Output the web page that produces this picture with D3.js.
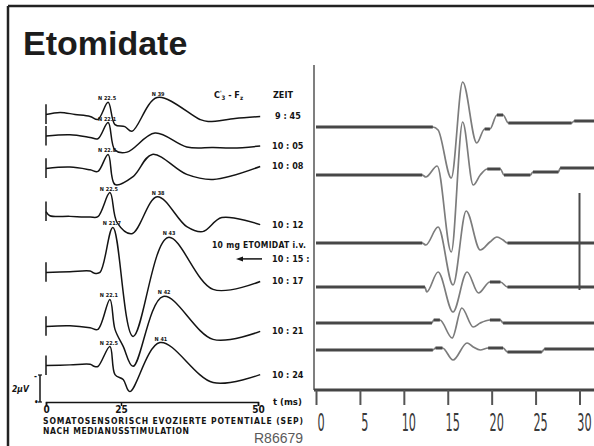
<!DOCTYPE html>
<html lang="de">
<head>
<meta charset="UTF-8">
<title>Etomidate</title>
<style>
  body { margin: 0; background: #fff; }
  svg { display: block; }
  .ltrace { fill: none; stroke: #141414; stroke-width: 1.5px; stroke-linejoin: round; }
  .rwave { fill: none; stroke: #7c7c7c; stroke-width: 1.7px; }
  .rflat { stroke: #474747; stroke-width: 3px; }
  .lbl { font-family: "DejaVu Sans Condensed", "DejaVu Sans", sans-serif; font-weight: bold; fill: #141414; }
</style>
<script src="https://cdn.jsdelivr.net/npm/d3@7/dist/d3.min.js"></script>
</head>
<body>
<script>
  // ---- left panel: SEP traces, [t (ms), deflection (µV, negative up)]
  var zeitLabels = ["9 : 45", "10 : 05", "10 : 08", "10 : 12", "10 : 17", "10 : 21", "10 : 24"];
  var leftOffsets = [21.3, 19.7, 17.3, 14.1, 9.6, 5.6, 2.7];   // µV above the time axis
  var leftTraces = [
    [[0,0],[4.7,0.15],[9.7,0],[14.7,-0.15],[17.3,-0.37],[20.7,0.9],[23,-0.75],[25.7,-0.9],[27,-1.25],[31.6,1.25],[39.4,-0.37],[40.9,-0.52],[45.8,-0.3],[50.4,-0.15]],
    [[0,0],[8,0.1],[14.7,-0.1],[17.3,-0.2],[20.7,1.0],[23,-1.04],[26.1,-1.19],[31.2,0.22],[37,-0.81],[41.8,-0.85],[45.4,-0.89],[50.4,-0.74]],
    [[0,0],[8,0.1],[14.7,-0.1],[17.3,-0.22],[20.7,1.04],[23,-1.19],[27.2,-0.6],[30.7,1.04],[37,-0.44],[41.8,-0.81],[50.4,0.15]],
    [[0,0],[1.3,-0.3],[8,-0.35],[14.7,-0.4],[17.3,-0.37],[21.3,1.41],[23.7,-0.81],[27,-1.63],[31.6,1.11],[37,-1.11],[39.9,-1.48],[43.4,-0.44],[50.4,-0.96]],
    [[0,0],[8,0.05],[14.7,0.1],[16,-0.05],[18,0],[22.3,3.33],[27.2,-4.74],[33.6,2.59],[41.8,-1.26],[50.4,-0.67]],
    [[0,0],[8,0.05],[14.7,-0.1],[17.3,-0.22],[21.3,2.0],[23,-0.22],[25.4,-1.48],[27.2,-2.96],[32.7,2.22],[41.8,-0.96],[50.4,-0.37]],
    [[0,0],[8,0.05],[14.7,0.1],[16,-0.05],[17.3,-0.07],[21.3,1.41],[23,-0.67],[25.4,-1.04],[26.6,-1.93],[32.1,1.7],[41.8,-1.26],[50.4,-0.67]]
  ];
  var peakLabels = [
    {trace: 0, t: 20.7, text: "N 22.5"}, {trace: 0, t: 31.6, text: "N 39"},
    {trace: 1, t: 20.7, text: "N 22.1"},
    {trace: 2, t: 20.7, text: "N 22.8"},
    {trace: 3, t: 21.3, text: "N 22.5"}, {trace: 3, t: 31.6, text: "N 38"},
    {trace: 4, t: 22.3, text: "N 21.7"}, {trace: 4, t: 33.6, text: "N 43"},
    {trace: 5, t: 21.3, text: "N 22.1"}, {trace: 5, t: 32.7, text: "N 42"},
    {trace: 6, t: 21.3, text: "N 22.5"}, {trace: 6, t: 32.1, text: "N 41"}
  ];
  var injection = {zeit: "10 : 15 :", level: 10.6, text: "10 mg ETOMIDAT i.v."};
  var leftTicks = [0, 25, 50];

  // ---- right panel: [t (ms), deflection]
  var rightOffsets = [26.3, 21.5, 14.7, 10.3, 6.7, 4.0];
  var rightTraces = [
    [[0,0],[13.3,0],[13.9,-0.3],[15.4,-5.1],[16.7,4.5],[18.3,-1.6],[19.2,-0.2],[19.8,-0.2],[20.6,1.2],[21.3,1.2],[21.9,0.4],[29.1,0.4],[29.4,0.6],[31.7,0.6]],
    [[0,0],[12.1,0],[12.5,-0.2],[13.8,0.9],[15.4,-7.7],[16.7,5.3],[17.9,-1.0],[18.7,0],[19.5,0.6],[21,0.6],[21.4,0],[24.4,0],[24.7,0.3],[27.6,0.3],[27.8,0.7],[31.7,0.7]],
    [[0,0],[12.1,0],[12.5,-0.2],[13.9,1.6],[15.6,-4.2],[17.1,3.2],[18.7,-0.7],[19.8,0.1],[20.6,0.6],[21.3,0.3],[21.8,0],[31.7,0]],
    [[0,0],[12.4,0],[12.6,-0.5],[13.9,1.5],[15.6,-2.5],[17.2,1.5],[18.5,-0.6],[19.8,0.5],[21,0.5],[21.8,0],[31.7,0]],
    [[0,0],[13.2,0],[13.4,0.3],[14.1,0.3],[15.5,-1.5],[16.6,1.5],[17.9,-0.4],[18.7,0],[19.8,0.3],[21,0.3],[21.3,0],[31.7,0]],
    [[0,0],[13.3,0],[13.6,0.2],[14.4,0.2],[15.6,-1.0],[17.2,0.7],[17.9,0.3],[18.7,0],[19.6,0.2],[21.3,0.2],[21.8,-0.2],[25.7,-0.2],[26,0.1],[31.7,0.1]]
  ];
  var markerT = 30, markerRange = [10.0, 19.7];
  var rightTicks = [0, 5, 10, 15, 20, 25, 30];

  var W = 594, H = 446;

  // scales (left time axis is drawn unevenly in the source, so piecewise)
  var xL = d3.scaleLinear().domain([0, 25, 50]).range([46, 121, 258]);
  var yL = d3.scaleLinear().domain([0, 25]).range([402, 64.5]);
  var xR = d3.scaleLinear().domain([0, 30]).range([316, 579.5]);
  var yR = d3.scaleLinear().domain([0, 32.5]).range([390, 65]);

  var svg = d3.select("body").append("svg")
      .attr("width", W)
      .attr("height", H);

  // frame
  svg.append("line").attr("x1", 8).attr("x2", W).attr("y1", 6).attr("y2", 6)
      .attr("stroke", "#222").attr("stroke-width", 2.5);
  svg.append("line").attr("x1", 8).attr("x2", 8).attr("y1", 6).attr("y2", H)
      .attr("stroke", "#222").attr("stroke-width", 2.5);

  svg.append("text")
      .attr("x", 23).attr("y", 55)
      .attr("font-family", "Liberation Sans, Arial, sans-serif")
      .attr("font-weight", "bold")
      .attr("font-size", 34)
      .attr("fill", "#1c1c1c")
      .text("Etomidate");

  // ---------------- left panel
  var gL = svg.append("g");

  leftTraces.forEach(function(tr, i) {
    var off = leftOffsets[i];
    var line = d3.line()
      .x(function(d) { return xL(d[0]); })
      .y(function(d) { return yL(off + d[1]); })
      .curve(d3.curveCatmullRom.alpha(0.5));
    gL.append("path").datum(tr).attr("class", "ltrace").attr("d", line);
    // start marker
    gL.append("line")
        .attr("x1", xL(0)).attr("x2", xL(0))
        .attr("y1", yL(off + 0.75)).attr("y2", yL(off - 0.7))
        .attr("stroke", "#141414").attr("stroke-width", 1.5);
    // zeit label at the trace end
    var last = tr[tr.length - 1];
    gL.append("text").attr("class", "lbl")
        .attr("x", i === 0 ? 275 : 272)
        .attr("y", yL(off + last[1]) + 3)
        .attr("font-size", 9)
        .text(zeitLabels[i]);
  });

  peakLabels.forEach(function(p) {
    var tr = leftTraces[p.trace];
    var pt = tr.filter(function(d) { return d[0] === p.t; })[0];
    gL.append("text").attr("class", "lbl")
        .attr("x", xL(p.t) + (p.t < 25 ? -1 : 1))
        .attr("y", yL(leftOffsets[p.trace] + pt[1]) - 2)
        .attr("text-anchor", "middle")
        .attr("font-size", 5.5)
        .text(p.text);
  });

  // header labels
  var cz = gL.append("text").attr("class", "lbl").attr("x", 214).attr("y", 98).attr("font-size", 9);
  cz.append("tspan").text("C");
  cz.append("tspan").attr("dy", -3).attr("font-size", 6).text("'");
  cz.append("tspan").attr("dy", 5).attr("font-size", 6).text("3");
  cz.append("tspan").attr("dy", -2).text(" - F");
  cz.append("tspan").attr("dy", 2).attr("font-size", 6).text("z");
  gL.append("text").attr("class", "lbl").attr("x", 273).attr("y", 98).attr("font-size", 9).text("ZEIT");

  // injection
  var yInj = yL(injection.level);
  gL.append("text").attr("class", "lbl").attr("x", 212).attr("y", yInj - 11)
      .attr("font-size", 8.5).attr("textLength", 94).text(injection.text);
  gL.append("line").attr("x1", 240).attr("x2", 262).attr("y1", yInj).attr("y2", yInj)
      .attr("stroke", "#141414").attr("stroke-width", 1.5);
  gL.append("path")
      .attr("d", "M236," + yInj + "L243," + (yInj - 2.5) + "L243," + (yInj + 2.5) + "Z")
      .attr("fill", "#141414");
  gL.append("text").attr("class", "lbl").attr("x", 272).attr("y", yInj + 3)
      .attr("font-size", 9).text(injection.zeit);

  // µV bar
  var xb = 40;
  gL.append("line").attr("x1", xb).attr("x2", xb).attr("y1", yL(2)).attr("y2", yL(0))
      .attr("stroke", "#141414").attr("stroke-width", 1.5);
  [0, 2].forEach(function(v) {
    gL.append("line").attr("x1", xb - 2).attr("x2", xb + 2).attr("y1", yL(v)).attr("y2", yL(v))
        .attr("stroke", "#141414").attr("stroke-width", 1.2);
  });
  gL.append("text").attr("class", "lbl").attr("x", 34).attr("y", yL(2) + 4).attr("font-size", 8).text("-");
  gL.append("text").attr("class", "lbl").attr("x", 34).attr("y", yL(0) + 3).attr("font-size", 8).text("•");
  gL.append("text").attr("class", "lbl").attr("x", 12).attr("y", yL(1) + 3).attr("font-size", 8.5)
      .attr("font-style", "italic").text("2μV");

  // time axis
  var axL = gL.append("g")
      .attr("transform", "translate(0," + yL(0) + ")")
      .call(d3.axisBottom(xL).tickValues(leftTicks).tickSize(4).tickPadding(0));
  axL.selectAll("path, line").attr("stroke", "#141414").attr("stroke-width", 1.5);
  axL.selectAll("text").attr("class", "lbl").attr("font-size", 10);
  gL.append("text").attr("class", "lbl").attr("x", 273).attr("y", yL(0) + 3).attr("font-size", 9.5).text("t  (ms)");

  gL.append("text").attr("class", "lbl").attr("x", 43).attr("y", 424)
      .attr("font-size", 8.5).attr("textLength", 260).attr("font-weight", "normal")
      .text("SOMATOSENSORISCH  EVOZIERTE  POTENTIALE  (SEP)");
  gL.append("text").attr("class", "lbl").attr("x", 43).attr("y", 434)
      .attr("font-size", 8.5).attr("textLength", 146).attr("font-weight", "normal")
      .text("NACH  MEDIANUSSTIMULATION");
  svg.append("text").attr("x", 254).attr("y", 443)
      .attr("font-family", "Liberation Sans, Arial, sans-serif")
      .attr("font-size", 14).attr("fill", "#5a5a5a")
      .text("R86679");

  // ---------------- right panel
  var gR = svg.append("g");

  gR.append("line")
      .attr("x1", xR(0) - 2).attr("x2", xR(0) - 2)
      .attr("y1", yR(32.5)).attr("y2", yR(0))
      .attr("stroke", "#555").attr("stroke-width", 1.5);

  rightTraces.forEach(function(tr, i) {
    var off = rightOffsets[i];
    var line = d3.line()
      .x(function(d) { return xR(d[0]); })
      .y(function(d) { return yR(off + d[1]); })
      .curve(d3.curveMonotoneX);
    gR.append("path").datum(tr).attr("class", "rwave").attr("d", line);
    // flat stretches of the record are printed heavier
    var flats = d3.pairs(tr).filter(function(p) { return p[0][1] === p[1][1]; });
    gR.selectAll(null).data(flats).enter().append("line")
        .attr("class", "rflat")
        .attr("x1", function(p) { return xR(p[0][0]); })
        .attr("x2", function(p) { return xR(p[1][0]); })
        .attr("y1", function(p) { return yR(off + p[0][1]); })
        .attr("y2", function(p) { return yR(off + p[1][1]); });
  });

  gR.append("line")
      .attr("x1", xR(markerT)).attr("x2", xR(markerT))
      .attr("y1", yR(markerRange[1])).attr("y2", yR(markerRange[0]))
      .attr("stroke", "#4a4a4a").attr("stroke-width", 2);

  gR.append("line")
      .attr("x1", xR(0) - 2).attr("x2", W)
      .attr("y1", yR(0)).attr("y2", yR(0))
      .attr("stroke", "#444").attr("stroke-width", 3);

  var axR = gR.append("g")
      .attr("transform", "translate(0," + yR(0) + ")")
      .call(d3.axisBottom(xR).tickValues(rightTicks).tickSize(15).tickPadding(8));
  axR.select(".domain").remove();
  axR.selectAll("line").attr("stroke", "#555").attr("stroke-width", 2);
  axR.selectAll("text")
      .attr("font-family", "DejaVu Sans Condensed, DejaVu Sans, sans-serif")
      .attr("font-size", 25)
      .attr("fill", "#3a3a3a")
      .attr("transform", "scale(0.5,1)")
      .attr("x", 9);
</script>
</body>
</html>
